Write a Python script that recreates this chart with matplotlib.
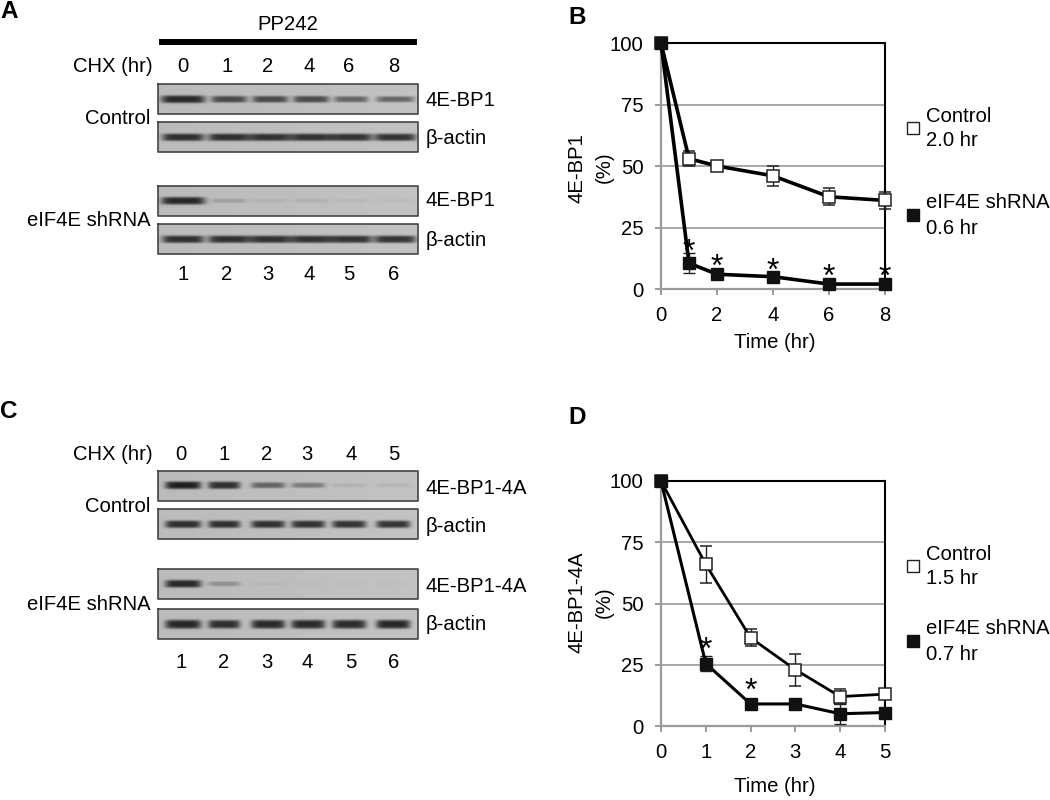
import numpy as np
import matplotlib
matplotlib.use("Agg")
import matplotlib.pyplot as plt

plt.rcParams['font.family'] = ['Liberation Sans', 'DejaVu Sans']
plt.rcParams['font.size'] = 14.6

W, H = 1050, 800

# panel B values
time_b = [0, 1, 2, 4, 6, 8]
ctrl_b = [100, 53, 50, 46, 37.5, 36]
ctrl_b_err = [0, 3, 1, 4, 3.5, 3.5]
sh_b = [100, 10.5, 6, 5, 2, 2]
sh_b_err = [0, 4, 0.5, 0.5, 0.5, 0.5]
stars_b_x = [1, 2, 4, 6, 8]
stars_b_y = [18, 12, 10.5, 8, 7.7]

# panel D values
time_d = [0, 1, 2, 3, 4, 5]
ctrl_d = [100, 66, 36, 23, 12, 13]
ctrl_d_err = [0, 7.5, 3.5, 6.5, 3, 1]
sh_d = [100, 25.5, 9, 9, 5, 5.5]
sh_d_err = [0, 3, 0.5, 0.5, 4, 0.5]
stars_d_x = [1, 2]
stars_d_y = [34, 17.5]

# blot band darkness, lane by lane
a_bp1_ctrl = [1.0, 0.78, 0.78, 0.78, 0.62, 0.6]
a_actin_ctrl = [0.95, 0.95, 0.95, 0.95, 0.95, 0.95]
a_bp1_sh = [1.0, 0.2, 0.08, 0.1, 0.06, 0.04]
a_actin_sh = [0.95, 0.95, 0.95, 0.95, 0.95, 0.95]
c_bp1_ctrl = [1.05, 0.95, 0.6, 0.45, 0.1, 0.08]
c_actin_ctrl = [0.95, 0.95, 0.95, 0.95, 0.95, 0.95]
c_bp1_sh = [1.0, 0.3, 0.05, 0.02, 0.02, 0.02]
c_actin_sh = [1.0, 0.95, 1.0, 1.0, 1.0, 1.05]

a_centers = [183, 229, 270, 311, 351, 395]
a_widths = [44, 36, 36, 36, 34, 38]
c_centers = [183, 224, 268, 308, 349, 393]
c_widths = [36, 32, 34, 34, 34, 34]


def draw_blot(ax, top, strength, centers, widths, band_y, thick=3.8, bg=0.73):
    left, right, bottom = 158, 418, top + 30
    xx, yy = np.meshgrid(np.arange(left, right, 0.5), np.arange(top, bottom, 0.5))
    img = np.full(xx.shape, bg)
    img += 0.03 * (xx - left) / (right - left)
    for c, w, s in zip(centers, widths, strength):
        across = np.exp(-((xx - c) / (w / 2)) ** 6)
        t = thick * (0.45 + 0.55 * min(s, 1))
        down = np.exp(-((yy - band_y) / t) ** 4)
        img -= s * 0.58 * across * down
    ax.imshow(np.clip(img, 0, 1), cmap='gray', vmin=0, vmax=1, aspect='auto',
              extent=(left, right, bottom, top), zorder=1)
    ax.plot([left, right, right, left, left], [top, top, bottom, bottom, top],
            color='#444444', lw=1.2, zorder=2)


def draw_chart(box, x, ctrl, ctrl_err, sh, sh_err, star_x, star_y, xmax, ticks, lw_ctrl, lw_sh, ms):
    left, top, right, bottom = box
    ax = fig.add_axes([left / W, 1 - bottom / H, (right - left) / W, (bottom - top) / H])
    ax.set_xlim(0, xmax)
    ax.set_ylim(0, 100)
    ax.patch.set_alpha(0)
    for side in ['left', 'bottom']:
        ax.spines[side].set_color('#9a9a9a')
        ax.spines[side].set_linewidth(1.6)
    for side in ['top', 'right']:
        ax.spines[side].set_color('black')
        ax.spines[side].set_linewidth(1.5)
    ax.set_yticks([0, 25, 50, 75, 100])
    ax.set_xticks(ticks)
    ax.tick_params(axis='both', color='#9a9a9a', width=1.4, length=4.5)
    ax.tick_params(axis='y', pad=8)
    ax.tick_params(axis='x', pad=7.5)
    ax.grid(axis='y', color='#9a9a9a', lw=1.2)
    ax.set_axisbelow(True)
    ax.errorbar(x, ctrl, yerr=ctrl_err, color='black', lw=lw_ctrl, marker='s', ms=ms, mfc='white',
                mec='#222222', mew=1.1, ecolor='#222222', elinewidth=1, capsize=4, capthick=1,
                clip_on=False, zorder=4)
    ax.errorbar(x, sh, yerr=sh_err, color='black', lw=lw_sh, marker='s', ms=ms, mfc='#111111',
                mec='#111111', ecolor='#222222', elinewidth=1, capsize=4, capthick=1,
                clip_on=False, zorder=5)
    for sx, sy in zip(star_x, star_y):
        ax.annotate('*', (sx, sy), xytext=(0, -6), textcoords='offset points',
                    ha='center', va='center', fontsize=23, zorder=6, annotation_clip=False)
    return ax


fig = plt.figure(figsize=(W / 100, H / 100), dpi=100)
page = fig.add_axes([0, 0, 1, 1])
page.axis('off')

# panel A
page.plot([159, 417], [42, 42], color='black', lw=4.3, solid_capstyle='butt')
draw_blot(page, 84, a_bp1_ctrl, a_centers, a_widths, 99)
draw_blot(page, 122, a_actin_ctrl, a_centers, [42] * 6, 137)
draw_blot(page, 186, a_bp1_sh, a_centers, a_widths, 200.5)
draw_blot(page, 224, a_actin_sh, a_centers, [42] * 6, 239)

# panel C
draw_blot(page, 471, c_bp1_ctrl, c_centers, c_widths, 485)
draw_blot(page, 509, c_actin_ctrl, c_centers, c_widths, 524)
draw_blot(page, 569, c_bp1_sh, c_centers, c_widths, 583.5)
draw_blot(page, 609, c_actin_sh, c_centers, c_widths, 624, thick=4.4)


def label(x, y, s, ha='center', **kw):
    page.text(x, y, s, ha=ha, va='center', **kw)


for letter, lx, ly in [('A', 0, 12), ('B', 568, 17), ('C', 0, 411), ('D', 568, 417)]:
    label(lx, ly, letter, ha='left', fontsize=17.5, fontweight='bold')

label(288, 25, 'PP242')
label(153, 66, 'CHX (hr)', ha='right')
label(153, 455, 'CHX (hr)', ha='right')
label(150, 119, 'Control', ha='right')
label(151, 221, 'eIF4E shRNA', ha='right')
label(150, 506, 'Control', ha='right')
label(151, 605, 'eIF4E shRNA', ha='right')

a_top = ['0', '1', '2', '4', '6', '8']
c_top = ['0', '1', '2', '3', '4', '5']
lanes = ['1', '2', '3', '4', '5', '6']
for s, n, c in zip(a_top, lanes, [183, 227, 268, 309, 349, 394]):
    label(c, 66, s)
    label(c, 274, n)
for s, n, c in zip(c_top, lanes, [181, 224, 267, 307, 351, 394]):
    label(c, 455, s)
    label(c, 662, n)

for txt, y in [('4E-BP1', 100), ('β-actin', 138), ('4E-BP1', 201), ('β-actin', 240),
               ('4E-BP1-4A', 488), ('β-actin', 527), ('4E-BP1-4A', 586), ('β-actin', 625)]:
    label(426, y, txt, ha='left')

# panels B and D
draw_chart((661, 43, 885, 289), time_b, ctrl_b, ctrl_b_err, sh_b, sh_b_err,
           stars_b_x, stars_b_y, 8, [0, 2, 4, 6, 8], 2.6, 2.6, 8)
draw_chart((661, 481, 885, 726), time_d, ctrl_d, ctrl_d_err, sh_d, sh_d_err,
           stars_d_x, stars_d_y, 5, time_d, 2, 2.2, 8.8)

label(577, 168, '4E-BP1', rotation=90)
label(604, 167, '(%)', rotation=90)
label(577, 602, '4E-BP1-4A', rotation=90)
label(604, 602, '(%)', rotation=90)
label(775, 342, 'Time (hr)')
label(775, 787, 'Time (hr)')

# hand made legends
for y_open, y_fill, t1, t2 in [(128, 215, '2.0 hr', '0.6 hr'), (566, 641, '1.5 hr', '0.7 hr')]:
    page.plot([913], [y_open], 's', ms=8, mfc='white', mec='#222222', mew=1)
    page.plot([913], [y_fill], 's', ms=8, mfc='#111111', mec='#111111')
    label(926, y_open - 11, 'Control', ha='left')
    label(926, y_open + 12, t1, ha='left')
    label(926, y_fill - 12, 'eIF4E shRNA', ha='left')
    label(926, y_fill + 13, t2, ha='left')
page.set_xlim(0, W)
page.set_ylim(H, 0)

fig.savefig('out.png', dpi=100)
